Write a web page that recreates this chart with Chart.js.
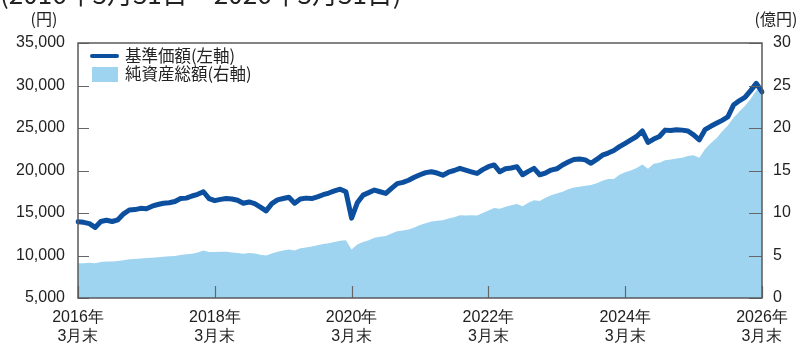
<!DOCTYPE html>
<html>
<head>
<meta charset="utf-8">
<script src="https://cdn.jsdelivr.net/npm/chart.js@4.4.1/dist/chart.umd.min.js"></script>
<style>
  html, body { margin: 0; padding: 0; background: #fff; }
  #wrap { width: 806px; height: 349px; position: relative; }
</style>
</head>
<body>
<div id="wrap"><canvas id="fund-chart"></canvas></div>
<script>
// month-end labels, 2016-03 .. 2026-03
const months = [];
for (let k = 0; k <= 120; k++) {
    const m = (2 + k) % 12 + 1;
    const y = 2016 + Math.floor((2 + k) / 12);
    months.push(y + '-' + String(m).padStart(2, '0'));
}

// 基準価額 (円), left axis
const navValues = [
    13980, 13900, 13750, 13300, 14000, 14150, 14000, 14200, 14900, 15350, 15400, 15550,
    15500, 15800, 16000, 16150, 16200, 16350, 16700, 16750, 17000, 17200, 17500, 16700,
    16450, 16600, 16700, 16650, 16500, 16150, 16300, 16100, 15700, 15250, 16100, 16550,
    16700, 16850, 16150, 16650, 16750, 16700, 16900, 17150, 17350, 17600, 17800, 17500,
    14400, 16200, 17100, 17400, 17700, 17500, 17300, 17900, 18450, 18600, 18850, 19200,
    19500, 19750, 19850, 19700, 19450, 19800, 20000, 20250, 20050, 19850, 19650, 20100,
    20450, 20650, 19850, 20200, 20300, 20450, 19500, 19900, 20250, 19500, 19700, 20050,
    20200, 20650, 21000, 21300, 21350, 21250, 20850, 21300, 21800, 22050, 22350, 22800,
    23200, 23600, 24000, 24650, 23300, 23700, 24000, 24750, 24700, 24800, 24750, 24650,
    24200, 23600, 24800, 25200, 25550, 25900, 26300, 27700, 28200, 28600, 29400, 30250,
    29250
];

// 純資産総額 (億円), right axis
const netAssets = [
    4.1, 4.1, 4.15, 4.1, 4.25, 4.3, 4.3, 4.35, 4.45, 4.55, 4.6, 4.65,
    4.7, 4.75, 4.8, 4.85, 4.9, 4.95, 5.05, 5.15, 5.2, 5.35, 5.6, 5.4,
    5.4, 5.45, 5.45, 5.35, 5.3, 5.2, 5.3, 5.25, 5.1, 5.0, 5.25, 5.45,
    5.6, 5.7, 5.6, 5.85, 5.95, 6.05, 6.2, 6.35, 6.45, 6.6, 6.75, 6.8,
    5.7, 6.3, 6.6, 6.8, 7.1, 7.2, 7.3, 7.6, 7.85, 7.95, 8.05, 8.3,
    8.6, 8.8, 9.0, 9.1, 9.15, 9.35, 9.5, 9.75, 9.7, 9.75, 9.7, 10.0,
    10.3, 10.6, 10.5, 10.75, 10.9, 11.05, 10.8, 11.2, 11.5, 11.4, 11.8, 12.1,
    12.3, 12.5, 12.8, 13.0, 13.1, 13.2, 13.3, 13.5, 13.8, 14.0, 14.0, 14.5,
    14.8, 15.0, 15.3, 15.7, 15.2, 15.8, 15.9, 16.2, 16.3, 16.4, 16.5, 16.7,
    16.8, 16.5, 17.5, 18.2, 18.8, 19.6, 20.3, 21.2, 21.9, 22.6, 23.4, 24.4,
    24.8
];

const seriesNames = ['基準価額(左軸)', '純資産総額(右軸)'];
const periodText = '(2016年3月31日～2026年3月31日)';

const NAVY = '#0b4f9e';
const SKY = '#9fd4f1';
const FRAME = '#5a5a5a';
const TEXT = '#222';
const numFont = '"Liberation Sans", Arial, sans-serif';
const jpFont = '"Noto Sans CJK JP", "Noto Sans", sans-serif';

// frame, inward ticks, legend, unit labels
const decorPlugin = {
    id: 'decor',
    afterDraw(chart) {
        const { ctx, chartArea: a, scales } = chart;
        ctx.save();

        // inward tick marks
        ctx.strokeStyle = '#666';
        ctx.lineWidth = 1.2;
        ctx.beginPath();
        scales.y.ticks.forEach(t => {
            const py = Math.round(scales.y.getPixelForValue(t.value)) + 0.5;
            ctx.moveTo(a.left, py); ctx.lineTo(a.left + 11, py);
        });
        scales.y1.ticks.forEach(t => {
            const py = Math.round(scales.y1.getPixelForValue(t.value)) + 0.5;
            ctx.moveTo(a.right, py); ctx.lineTo(a.right - 13, py);
        });
        scales.x.ticks.forEach(t => {
            const px = Math.round(scales.x.getPixelForValue(t.value)) + 0.5;
            ctx.moveTo(px, a.bottom); ctx.lineTo(px, a.bottom - 12);
        });
        ctx.stroke();

        // frame
        ctx.strokeStyle = FRAME;
        ctx.lineWidth = 1.5;
        ctx.strokeRect(a.left, a.top, a.right - a.left, a.bottom - a.top);

        // legend
        ctx.fillStyle = TEXT;
        ctx.font = '16.5px ' + jpFont;
        ctx.textBaseline = 'middle';
        ctx.textAlign = 'left';
        ctx.strokeStyle = NAVY;
        ctx.lineWidth = 4;
        ctx.lineCap = 'round';
        ctx.beginPath();
        ctx.moveTo(a.left + 14, a.top + 13);
        ctx.lineTo(a.left + 39, a.top + 13);
        ctx.stroke();
        ctx.fillText(seriesNames[0], a.left + 47, a.top + 13);
        ctx.fillStyle = SKY;
        ctx.fillRect(a.left + 14, a.top + 24, 26, 15);
        ctx.fillStyle = TEXT;
        ctx.fillText(seriesNames[1], a.left + 47, a.top + 31);

        // units and period
        ctx.font = '16px ' + jpFont;
        ctx.textAlign = 'center';
        ctx.fillText('(円)', 44, 19);
        ctx.fillText('(億円)', 776, 19);
        ctx.font = '26px ' + jpFont;
        ctx.textAlign = 'left';
        ctx.textBaseline = 'alphabetic';
        ctx.fillText(periodText, 0, 4);
        ctx.restore();
    }
};

const config = {
    type: 'line',
    data: {
        labels: months,
        datasets: [
            {
                label: seriesNames[0],
                data: navValues,
                yAxisID: 'y',
                borderColor: NAVY,
                borderWidth: 5,
                borderJoinStyle: 'round',
                borderCapStyle: 'round',
                pointRadius: 0,
                tension: 0,
                fill: false,
            },
            {
                label: seriesNames[1],
                data: netAssets,
                yAxisID: 'y1',
                borderWidth: 0,
                borderColor: SKY,
                backgroundColor: SKY,
                pointRadius: 0,
                tension: 0,
                fill: 'start',
            },
        ],
    },
    options: {
        responsive: false,
        animation: false,
        layout: { padding: { top: 43, left: 0, right: 0, bottom: 0 } },
        plugins: {
            legend: { display: false },
            tooltip: { enabled: false },
        },
        scales: {
            x: {
                type: 'category',
                offset: false,
                grid: { display: false, drawTicks: false },
                border: { display: false },
                afterBuildTicks: (scale) => {
                    scale.ticks = scale.ticks.filter(t => t.value % 24 === 0);
                },
                afterFit: (scale) => { scale.height = 51; },
                ticks: {
                    autoSkip: false,
                    maxRotation: 0,
                    padding: 10,
                    color: TEXT,
                    font: { family: numFont, size: 16, lineHeight: 1.2 },
                    callback: (value) => {
                        const yr = months[value].slice(0, 4);
                        return [yr + '年', '3月末'];
                    },
                },
            },
            y: {
                position: 'left',
                min: 5000,
                max: 35000,
                grid: { display: false, drawTicks: false },
                border: { display: false },
                afterFit: (scale) => { scale.width = 78; },
                ticks: {
                    stepSize: 5000,
                    padding: 13,
                    color: TEXT,
                    font: { family: numFont, size: 16 },
                    callback: (v) => v.toLocaleString('en-US'),
                },
            },
            y1: {
                position: 'right',
                min: 0,
                max: 30,
                grid: { display: false, drawTicks: false },
                border: { display: false },
                afterFit: (scale) => { scale.width = 44; },
                ticks: {
                    stepSize: 5,
                    padding: 11,
                    color: TEXT,
                    font: { family: numFont, size: 16 },
                },
            },
        },
    },
    plugins: [decorPlugin],
};

const canvas = document.getElementById('fund-chart');
canvas.width = 806;
canvas.height = 349;
new Chart(canvas, config);
</script>
</body>
</html>
